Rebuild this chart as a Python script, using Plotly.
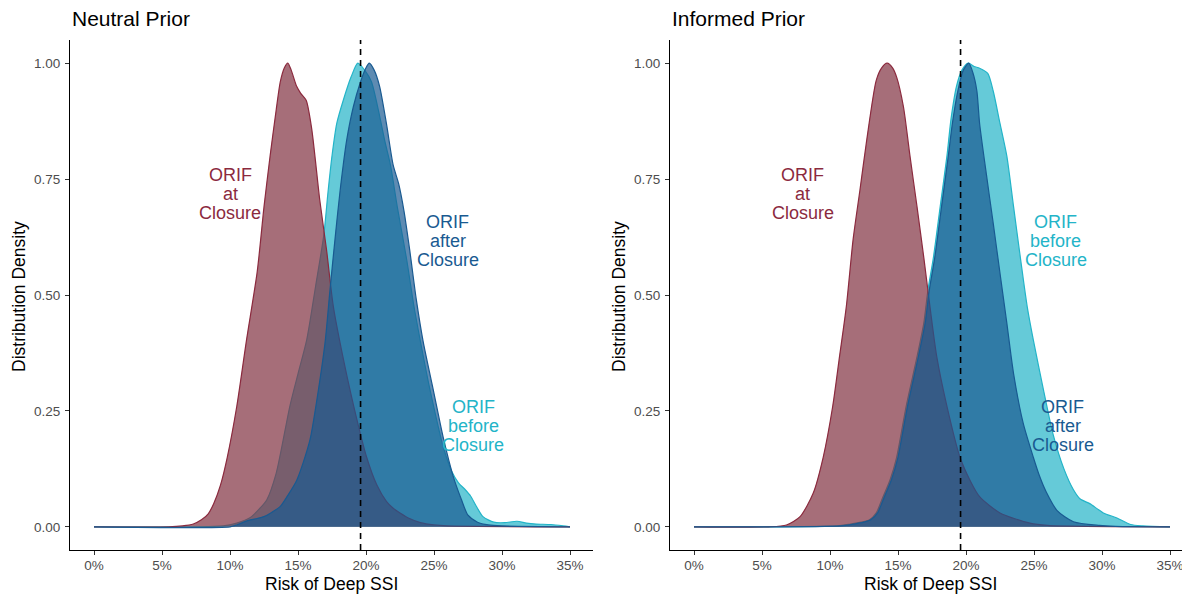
import plotly.graph_objects as go

# ---------------- data (risk in %, density scaled to max 1) ----------------
# Neutral prior
neutral_before_x = [0, 9.5, 10.5, 11.5, 12.2, 12.7, 13.4, 14.4, 15.0, 15.64, 16.3, 16.9, 17.2, 17.5, 17.85, 18.33, 18.9, 19.4, 19.9, 20.4, 20.9, 21.4, 21.8, 22.3, 23.0, 23.5, 24.0, 24.6, 25.2, 25.7, 26.3, 26.8, 27.3, 27.7, 28.1, 28.6, 29.4, 30.2, 31.1, 31.8, 32.5, 33.6, 34.5, 35]
neutral_before_y = [0, 0.002, 0.008, 0.02, 0.04, 0.058, 0.116, 0.26, 0.33, 0.403, 0.52, 0.63, 0.72, 0.80, 0.87, 0.92, 0.97, 1.0, 0.985, 0.96, 0.90, 0.83, 0.78, 0.69, 0.575, 0.48, 0.40, 0.31, 0.23, 0.17, 0.12, 0.095, 0.08, 0.066, 0.045, 0.022, 0.01, 0.009, 0.012, 0.008, 0.006, 0.005, 0.002, 0]

neutral_at_x = [0, 5.5, 6.5, 7.3, 7.9, 8.4, 8.8, 9.3, 9.8, 10.5, 11.2, 12.0, 12.5, 12.95, 13.4, 13.7, 14.0, 14.25, 14.5, 14.9, 15.2, 15.6, 16.0, 16.6, 17.1, 17.6, 18.3, 19.1, 20.05, 20.8, 21.5, 22.0, 22.5, 23.2, 24.0, 25.0, 26.0, 35]
neutral_at_y = [0, 0, 0.002, 0.006, 0.015, 0.028, 0.05, 0.09, 0.15, 0.26, 0.40, 0.55, 0.69, 0.80, 0.90, 0.96, 0.99, 1.0, 0.985, 0.95, 0.935, 0.92, 0.86, 0.705, 0.597, 0.475, 0.367, 0.26, 0.15, 0.09, 0.055, 0.04, 0.03, 0.018, 0.009, 0.004, 0.002, 0]

neutral_after_x = [0, 10.0, 10.5, 11.0, 11.5, 12.0, 12.5, 13.0, 13.7, 14.3, 14.9, 15.4, 15.9, 16.5, 17.0, 17.35, 17.72, 18.1, 18.58, 19.07, 19.6, 20.0, 20.24, 20.6, 21.0, 21.5, 22.0, 22.4, 22.8, 23.2, 23.7, 24.2, 24.95, 25.7, 26.4, 27.0, 27.5, 28.2, 29.0, 30.0, 35]
neutral_after_y = [0, 0, 0.004, 0.01, 0.015, 0.018, 0.022, 0.03, 0.044, 0.07, 0.10, 0.14, 0.19, 0.295, 0.40, 0.51, 0.62, 0.726, 0.834, 0.906, 0.96, 0.99, 1.0, 0.985, 0.95, 0.87, 0.78, 0.74, 0.68, 0.60, 0.49, 0.40, 0.295, 0.19, 0.11, 0.06, 0.025, 0.01, 0.004, 0.002, 0]

# Informed prior
informed_before_x = [0, 10.5, 11.5, 12.3, 12.9, 13.4, 13.9, 14.4, 14.9, 15.6, 16.4, 16.9, 17.2, 17.6, 18.1, 18.6, 18.9, 19.3, 19.7, 20.17, 20.6, 21.0, 21.6, 22.0, 22.5, 23.0, 23.5, 24.0, 24.5, 24.95, 25.7, 26.4, 27.2, 27.9, 28.4, 29.1, 30.1, 31.1, 32.1, 33.0, 35]
informed_before_y = [0, 0.002, 0.006, 0.01, 0.015, 0.03, 0.065, 0.10, 0.15, 0.26, 0.367, 0.44, 0.51, 0.58, 0.69, 0.80, 0.88, 0.95, 0.985, 1.0, 0.993, 0.989, 0.978, 0.94, 0.87, 0.80, 0.69, 0.58, 0.475, 0.403, 0.295, 0.20, 0.125, 0.08, 0.06, 0.05, 0.03, 0.019, 0.005, 0.002, 0]

informed_at_x = [0, 5.5, 6.8, 7.8, 8.77, 9.5, 10.2, 10.7, 11.2, 11.7, 12.2, 12.7, 13.4, 13.8, 14.2, 14.6, 14.9, 15.4, 15.88, 16.4, 16.9, 17.35, 17.85, 18.6, 19.56, 20.3, 21.0, 22.5, 24.7, 26.0, 35]
informed_at_y = [0, 0, 0.004, 0.022, 0.073, 0.15, 0.26, 0.367, 0.475, 0.62, 0.726, 0.834, 0.963, 0.99, 1.0, 0.99, 0.97, 0.906, 0.80, 0.69, 0.58, 0.475, 0.367, 0.26, 0.15, 0.10, 0.065, 0.03, 0.008, 0.003, 0]

informed_after_x = [0, 10.8, 11.8, 12.5, 13.0, 13.5, 14.0, 14.5, 15.0, 15.7, 16.5, 17.0, 17.3, 17.7, 18.2, 18.7, 19.0, 19.4, 19.8, 20.2, 20.5, 20.8, 21.0, 21.5, 22.0, 22.5, 23.0, 23.5, 24.2, 24.95, 25.4, 25.9, 26.7, 27.9, 29.8, 31.0, 35]
informed_after_y = [0, 0.002, 0.006, 0.01, 0.015, 0.03, 0.065, 0.10, 0.15, 0.26, 0.367, 0.44, 0.51, 0.58, 0.69, 0.80, 0.87, 0.94, 0.985, 1.0, 0.98, 0.94, 0.87, 0.76, 0.655, 0.547, 0.44, 0.33, 0.224, 0.15, 0.11, 0.075, 0.035, 0.011, 0.003, 0.001, 0]

x_tick_vals = [0, 5, 10, 15, 20, 25, 30, 35]
x_tick_text = ["0%", "5%", "10%", "15%", "20%", "25%", "30%", "35%"]
y_tick_vals = [0, 0.25, 0.5, 0.75, 1.0]
y_tick_text = ["0.00", "0.25", "0.50", "0.75", "1.00"]

reference_risk = 19.6
panel_titles = ["Neutral Prior", "Informed Prior"]

# ---------------- styling ----------------
FONT = "Liberation Sans, Arial, sans-serif"
# (line colour, fill base colour)
C_AT = ((139, 42, 62), (128, 48, 64))
C_BEFORE = ((35, 180, 200), (35, 180, 200))
C_AFTER = ((25, 90, 145), (25, 90, 145))
ALPHA = 0.7


def rgb(c):
    return "rgb(%d,%d,%d)" % c


def rgba(c, a):
    return "rgba(%d,%d,%d,%.2f)" % (c[0], c[1], c[2], a)


# The page body has an 8px margin, so the figure is drawn 8px in from the
# top-left corner of the window. All pixel positions below are window pixels.
OFF = 8
W, H = 1190 - OFF, 596 - OFF


def px(xw):
    return (xw - OFF) / W


def py(yw):
    return 1 - (yw - OFF) / H


fig = go.Figure()

panels = [
    dict(xa="x", ya="y",
         series=[(neutral_before_x, neutral_before_y, C_BEFORE, "ORIF before Closure"),
                 (neutral_at_x, neutral_at_y, C_AT, "ORIF at Closure"),
                 (neutral_after_x, neutral_after_y, C_AFTER, "ORIF after Closure")]),
    dict(xa="x2", ya="y2",
         series=[(informed_before_x, informed_before_y, C_BEFORE, "ORIF before Closure"),
                 (informed_at_x, informed_at_y, C_AT, "ORIF at Closure"),
                 (informed_after_x, informed_after_y, C_AFTER, "ORIF after Closure")]),
]

for p in panels:
    for xs, ys, col, name in p["series"]:
        fig.add_trace(go.Scatter(
            x=xs, y=ys, xaxis=p["xa"], yaxis=p["ya"], mode="lines",
            line=dict(color=rgb(col[0]), width=1.2, shape="spline", smoothing=0.7),
            fill="tozeroy", fillcolor=rgba(col[1], ALPHA), name=name,
            showlegend=False, hoverinfo="skip"))

# window-pixel geometry of the two panels
L1, R1 = 70, 593
L2, R2 = 670, 1190
TOP, BOT = 40, 550
PXPERPCT = 13.6
x_lo = -24 / PXPERPCT

axis_common = dict(
    showline=True, linecolor="black", linewidth=1.2, mirror=False,
    ticks="outside", ticklen=4, tickwidth=1.1, tickcolor="#333333",
    showgrid=False, zeroline=False,
    tickfont=dict(family=FONT, size=13.5, color="#4D4D4D"),
)

fig.update_layout(
    width=W, height=H, plot_bgcolor="white", paper_bgcolor="white",
    margin=dict(l=0, r=0, t=0, b=0),
    xaxis=dict(domain=[px(L1), px(R1)], range=[x_lo, x_lo + (R1 - L1) / PXPERPCT],
               tickvals=x_tick_vals, ticktext=x_tick_text, anchor="y", **axis_common),
    yaxis=dict(domain=[py(BOT), py(TOP)], range=[-0.05, 1.05],
               tickvals=y_tick_vals, ticktext=y_tick_text, anchor="x", **axis_common),
    xaxis2=dict(domain=[px(L2), min(1.0, px(R2))], range=[x_lo, x_lo + (R2 - L2) / PXPERPCT],
                tickvals=x_tick_vals, ticktext=x_tick_text, anchor="y2", **axis_common),
    yaxis2=dict(domain=[py(BOT), py(TOP)], range=[-0.05, 1.05],
                tickvals=y_tick_vals, ticktext=y_tick_text, anchor="x2", **axis_common),
    showlegend=False,
)
fig.update_xaxes(ticklabelstandoff=-1)
fig.update_yaxes(ticklabelstandoff=2)

# dashed reference line
for xr, yr in [("x", "y domain"), ("x2", "y2 domain")]:
    fig.add_shape(type="line", xref=xr, yref=yr, x0=reference_risk, x1=reference_risk,
                  y0=0, y1=1, line=dict(color="black", width=1.6, dash="6px,5px"))

# series labels (one annotation per line)
LINE_GAP = 0.041
labels = [
    ("x", "y", 10.0, 0.718, ["ORIF", "at", "Closure"], C_AT),
    ("x", "y", 26.0, 0.616, ["ORIF", "after", "Closure"], C_AFTER),
    ("x", "y", 27.9, 0.217, ["ORIF", "before", "Closure"], C_BEFORE),
    ("x2", "y2", 8.0, 0.718, ["ORIF", "at", "Closure"], C_AT),
    ("x2", "y2", 26.6, 0.616, ["ORIF", "before", "Closure"], C_BEFORE),
    ("x2", "y2", 27.1, 0.217, ["ORIF", "after", "Closure"], C_AFTER),
]
for xr, yr, xc, yc, lines, col in labels:
    for i, t in enumerate(lines):
        fig.add_annotation(x=xc, y=yc + (1 - i) * LINE_GAP, xref=xr, yref=yr, text=t,
                           showarrow=False, xanchor="center", yanchor="middle",
                           font=dict(family=FONT, size=18, color=rgb(col[0])))

# panel titles
for left, title in zip([L1, L2], panel_titles):
    fig.add_annotation(x=px(left), y=py(19), xref="paper", yref="paper", text=title,
                       showarrow=False, xanchor="left", yanchor="middle",
                       font=dict(family=FONT, size=21, color="black"))

# axis titles
for left, right in [(L1, R1), (L2, R2)]:
    fig.add_annotation(x=px((left + right) / 2), y=py(584), xref="paper", yref="paper",
                       text="Risk of Deep SSI", showarrow=False, xanchor="center", yanchor="middle",
                       font=dict(family=FONT, size=17.5, color="black"))
    fig.add_annotation(x=px(left - 51), y=py(297), xref="paper", yref="paper",
                       text="Distribution Density", showarrow=False, textangle=-90,
                       xanchor="center", yanchor="middle",
                       font=dict(family=FONT, size=17.5, color="black"))

fig.write_html("out.html")
